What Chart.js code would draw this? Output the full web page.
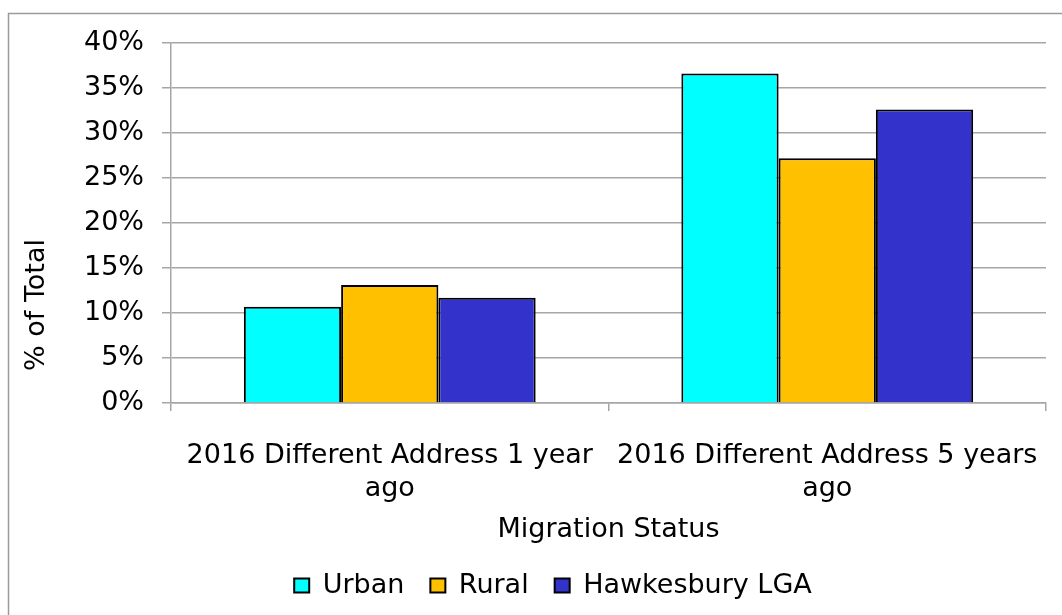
<!DOCTYPE html>
<html>
<head>
<meta charset="utf-8">
<script src="https://cdn.jsdelivr.net/npm/chart.js@4/dist/chart.umd.min.js"></script>
<style>
  html, body { margin: 0; padding: 0; background: #fff; }
  #wrap { width: 1062px; height: 615px; }
</style>
</head>
<body>
<div id="wrap"><canvas id="chart" width="1062" height="615"></canvas></div>
<script>
const categories = [
  ['2016 Different Address 1 year', 'ago'],
  ['2016 Different Address 5 years', 'ago']
];
const urban = [10.7, 36.6];
const rural = [13.1, 27.2];
const hawkesbury = [11.7, 32.6];
const seriesNames = ['Urban', 'Rural', 'Hawkesbury LGA'];
const seriesColors = ['#00FFFF', '#FFC000', '#3333CC'];
const yTitle = '% of Total';
const xTitle = 'Migration Status';

const FONT = 'DejaVu Sans, Verdana, sans-serif';
const FS = 27;
const GRID = '#a6a6a6';

// grey frame round the whole chart (only top and left show in the picture)
const framePlugin = {
  id: 'frame',
  beforeDraw(chart) {
    const { ctx } = chart;
    ctx.save();
    ctx.strokeStyle = '#9a9a9a';
    ctx.lineWidth = 1.5;
    ctx.strokeRect(8.5, 13.5, 1070, 620);
    ctx.restore();
  }
};

// y title sits lower than the plot centre, so place it by hand
const yTitlePlugin = {
  id: 'yTitle',
  afterDraw(chart) {
    const { ctx } = chart;
    ctx.save();
    ctx.translate(37, 305);
    ctx.rotate(-Math.PI / 2);
    ctx.font = FS + 'px ' + FONT;
    ctx.fillStyle = '#000';
    ctx.textAlign = 'center';
    ctx.textBaseline = 'middle';
    ctx.fillText(yTitle, 0, 0);
    ctx.restore();
  }
};

const values = [urban, rural, hawkesbury];

new Chart(document.getElementById('chart'), {
  type: 'bar',
  data: {
    labels: categories,
    datasets: seriesNames.map((name, i) => ({
      label: name,
      data: values[i],
      backgroundColor: seriesColors[i],
      borderColor: '#000',
      borderWidth: 2,
      categoryPercentage: 0.667,
      barPercentage: 1.0
    }))
  },
  options: {
    responsive: false,
    animation: false,
    layout: { padding: { left: 60, right: 16, top: 43, bottom: 6 } },
    plugins: {
      tooltip: { enabled: false },
      legend: {
        position: 'bottom',
        labels: {
          font: { family: FONT, size: FS },
          color: '#000',
          boxWidth: 15,
          boxHeight: 14,
          padding: 26
        }
      }
    },
    scales: {
      x: {
        offset: true,
        grid: {
          offset: true,
          drawOnChartArea: false,
          drawTicks: true,
          tickLength: 8,
          color: GRID,
          lineWidth: 1.5
        },
        border: { color: GRID, width: 1.5 },
        ticks: {
          font: { family: FONT, size: FS },
          color: '#000',
          maxRotation: 0,
          autoSkip: false,
          padding: 29
        },
        title: {
          display: true,
          text: xTitle,
          font: { family: FONT, size: FS },
          color: '#000',
          padding: { top: 0, bottom: 0 }
        },
        afterFit(scale) {
          scale.height = 143;
          // labels fit inside the canvas, so no extra side padding
          scale.paddingLeft = 0;
          scale.paddingRight = 0;
        }
      },
      y: {
        min: 0,
        max: 40,
        ticks: {
          stepSize: 5,
          font: { family: FONT, size: FS },
          color: '#000',
          padding: 18,
          callback: v => v + '%'
        },
        grid: { color: GRID, lineWidth: 1.5, tickLength: 9 },
        border: { color: GRID, width: 1.5 },
        afterFit(scale) { scale.width = 111; }
      }
    }
  },
  plugins: [framePlugin, yTitlePlugin]
});
</script>
</body>
</html>
